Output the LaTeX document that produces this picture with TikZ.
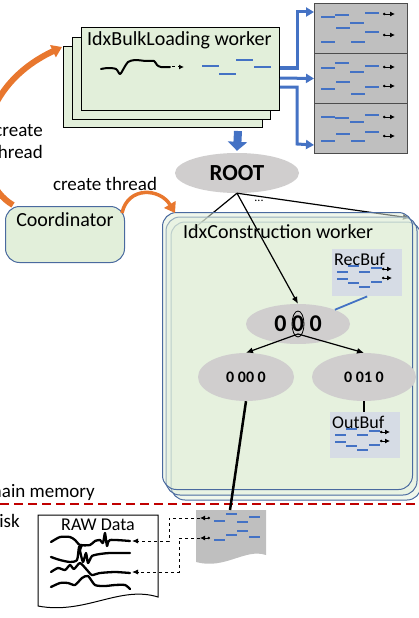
\documentclass[tikz,border=0pt]{standalone}
\usepackage{fontspec}
\setmainfont{Carlito}
\usetikzlibrary{arrows.meta,positioning,shapes.geometric,calc}

\definecolor{wgreen}{HTML}{E2EFDA}
\definecolor{ngray}{HTML}{D0CECE}
\definecolor{bgray}{HTML}{BFBFBF}
\definecolor{bufbg}{HTML}{D6DCE5}
\definecolor{dblue}{HTML}{4472C4}
\definecolor{fblue}{HTML}{4A6A9F}
\definecolor{orng}{HTML}{E8772E}
\definecolor{dred}{HTML}{C00000}

\newcommand{\fsz}[1]{\fontsize{#1}{#1}\selectfont}

\tikzset{
  wbox/.style = {draw, fill=wgreen, line width=1pt},
  cbox/.style = {draw=fblue, fill=wgreen, rounded corners=14pt, line width=1pt},
  lyr/.style = {cbox, fill opacity=0.5},
  tnode/.style = {ellipse, fill=ngray, inner sep=0pt},
  gbox/.style = {draw=black!70, fill=bgray, line width=1pt, minimum width=93, minimum height=50, anchor=north west},
  bufbox/.style = {fill=bufbg, minimum width=70, minimum height=47, anchor=north west},
  lbl/.style = {font=\fsz{20}, inner sep=0pt},
  dsh/.style = {dblue, line width=1.7pt},
  tip/.style = {line width=0.9pt, {Circle[length=2.5pt]}-{Latex[length=5pt,width=5pt]}},
  barrow/.style = {dblue, line width=3pt, -{Triangle[length=8pt,width=9pt]}},
  tarr/.style = {line width=1.2pt, -{Latex[length=7pt,width=6pt]}},
  oarrow/.style = {orng, line width=4pt, -{Triangle[length=10pt,width=13pt]}},
  squig/.style = {line width=2.3pt, line join=round, line cap=round},
  darr/.style = {dashed, line width=0.9pt, -{Latex[length=6pt,width=5pt]}}
}

\begin{document}
\begin{tikzpicture}[x=1pt,y=-1pt]
\useasboundingbox (0,0) rectangle (419,618);

% bulk loading workers
\node[wbox, minimum width=199, minimum height=81, anchor=north west] (bulk3) at (63,46) {};
\node[wbox, minimum width=198, minimum height=82, anchor=north west] (bulk2) at (72,37) {};
\node[wbox, minimum width=198, minimum height=83, anchor=north west] (bulk) at (81,27) {};
\node[lbl, anchor=base west] (bulkt) at (87,46) {IdxBulkLoading worker};
\draw[squig, line width=2pt] plot[smooth, tension=0.5] coordinates {(101,69) (108,68) (116,69) (120,74) (124,68) (128,62) (135,60) (146,61) (154,61) (157,65) (161,67) (170,67)};
\draw[dashed, line width=1pt, -{Latex[length=5pt,width=5pt]}] (172,67) -- (184,67);
\foreach \x/\y in {202/66, 219/74, 236/60, 254/67}
  \draw[dsh] (\x,\y) -- ++(17,0);

% partitions
\node[gbox] (part1) at (314,3) {};
\node[gbox] (part2) at (314,53) {};
\node[gbox] (part3) at (314,103) {};
\foreach \x/\y in {321/17, 335/15, 350/23, 365/13, 336/28, 365/32, 321/42, 351/42,
                   321/68, 335/63, 350/72, 365/66, 321/89, 336/82, 351/94, 365/87,
                   321/117, 335/118, 350/122, 365/115, 321/141, 336/134, 351/141, 365/132}
  \draw[dsh] (\x,\y) -- ++(14,0);
\foreach \y in {14,35,67,86,117,136}
  \draw[tip] (383,\y) -- (395,\y);

\draw[barrow] ($(bulk.north east)+(0,41)$) -| (297,12) -- ($(part1.north west)+(0,9)$);
\draw[barrow] ($(bulk.north east)+(0,51)$) -- (part2.west);
\draw[barrow] ($(bulk.north east)+(0,60)$) -| (297,144) -- ($(part3.south west)+(0,-9)$);

% root
\node[tnode, minimum width=124, minimum height=40, font=\bfseries\fsz{23}] (root) at (237,173) {ROOT};
\coordinate (ba) at (238,131);
\draw[dblue, line width=8pt, -{Triangle[length=9pt,width=19pt]}] (ba) -- ([yshift=2pt]root.north);
\coordinate (cl) at (192,230);
\coordinate (cr) at (410,218);
\draw[tarr] (root.south) -- (cl);
\draw[tarr] (root.south) -- (cr);
\node[font=\fsz{12}, inner sep=0pt] (dots) at (259,201) {...};

% construction workers
\draw[lyr] (171,222) rectangle (421,500);
\draw[lyr] (166,217) rectangle (417,495);
\node[lyr, minimum width=250, minimum height=277, anchor=north west] (cons) at (162,212) {};
\node[lbl, anchor=base west] (const) at (183,238) {IdxConstruction worker};

% record buffer
\node[bufbox] (recbuf) at (332,249) {};
\node[font=\fsz{18}, inner sep=0pt, anchor=base west] (recbuft) at (334,265) {RecBuf};
\begin{scope}[shift={(recbuf.north west)}]
  \foreach \x/\y in {5/23, 16/17, 27/23, 39/19, 5/30, 16/34, 27/38, 39/33}
    \draw[dsh, line width=1.5pt] (\x,\y) -- ++(11,0);
  \foreach \y in {20,29}
    \draw[tip] (50,\y) -- (60,\y);
\end{scope}

% tree nodes
\node[tnode, minimum width=104, minimum height=40, font=\bfseries\fsz{24}] (n000) at (298,324) {0 0 0};
\draw[line width=0.8pt] (n000.center) ellipse (6 and 13);
\draw[dblue, line width=1.8pt] (recbuf.south) -- (n000.north east);
\draw[tarr] (root.south) -- (n000.north);
\node[tnode, minimum width=96, minimum height=48, font=\bfseries\fsz{16}] (n0000) at (246,377) {0 00 0};
\node[tnode, minimum width=104, minimum height=48, font=\bfseries\fsz{16}] (n0010) at (364,377) {0 01 0};
\draw[tarr] ([yshift=-10pt]n000.center) -- (n0000.north);
\draw[tarr] ([yshift=-10pt]n000.center) -- (n0010.north);

% output buffer
\node[bufbox, minimum height=46] (outbuf) at (330,412) {};
\node[font=\fsz{18}, inner sep=0pt, anchor=base west] (outbuft) at (332,428) {OutBuf};
\begin{scope}[shift={(outbuf.north west)}]
  \foreach \x/\y in {5/23, 16/17, 27/23, 39/19, 5/30, 16/34, 27/38, 39/33}
    \draw[dsh, line width=1.5pt] (\x,\y) -- ++(11,0);
  \foreach \y in {20,29}
    \draw[tip] (50,\y) -- (60,\y);
\end{scope}
\draw[line width=1.5pt] (n0010.south) -- (n0010.south |- outbuf.north);

% coordinator
\node[cbox, minimum width=119, minimum height=56, anchor=north west] (coord) at (5,206) {};
\node[lbl, anchor=base] (coordt) at ($(coord.north)+(0,20)$) {Coordinator};
\node[font=\fsz{19}, inner sep=0pt, anchor=base] (ct1) at (105,190) {create thread};
\draw[oarrow, line width=3.5pt] ($(coord.north east)+(-3,7)$) .. controls (128,186) and (160,188) .. ($(cons.north west)+(13,1)$);
\node[font=\fontsize{19}{22}\selectfont, align=right, inner sep=0pt, anchor=east] (ct2) at (43,142) {create\\thread};
\draw[oarrow, line width=6pt] ($(coord.north west)+(8,-1)$) .. controls (-30,180) and (-30,90) .. ($(bulk3.north west)+(-1,1)$);

% memory / disk border
\coordinate (ml) at (0,504);
\coordinate (mr) at (419,504);
\draw[dred, line width=2.5pt, dash pattern=on 9pt off 5pt] (ml) -- (mr);
\node[font=\fsz{19}, inner sep=0pt, anchor=base east] (mm) at (95,497) {main memory};
\node[font=\fsz{19}, inner sep=0pt, anchor=base east] (dk) at (20,527) {disk};

% raw data file
\draw[line width=1pt, fill=white] (38,515) -- (158,515) -- (158,597) .. controls (120,585) and (85,615) .. (38,606) -- cycle;
\node[font=\fsz{18}, inner sep=0pt, anchor=base] (rawt) at (98,530) {RAW Data};
\draw[squig] plot[smooth, tension=0.4] coordinates {(51,542) (60,537) (70,537) (75,540) (80,545) (90,545) (95,541) (100,540) (103,543) (105,533) (107,546) (110,540) (130,541)};
\draw[squig] plot[smooth, tension=0.4] coordinates {(51,557) (60,560) (70,562) (77,560) (79,547) (82,545) (80,550) (83,562) (86,553) (88,563) (92,556) (100,554) (110,553) (130,553)};
\draw[squig] plot[smooth, tension=0.4] coordinates {(51,572) (58,568) (65,570) (70,565) (74,569) (80,563) (87,570) (92,575) (100,573) (115,572) (130,573)};
\draw[squig] plot[smooth, tension=0.4] coordinates {(51,587) (60,583) (68,583) (75,585) (82,578) (88,576) (95,585) (105,586) (115,585) (125,585) (130,589)};

% partition file on disk
\fill[bgray] (196,510) -- (266,510) -- (266,555) .. controls (245,548) and (225,570) .. (196,562) -- cycle;
\foreach \x/\y in {214/521, 226/514, 237/522, 249/517, 214/540, 226/535, 237/531, 249/537}
  \draw[dsh] (\x,\y) -- ++(11,0);
\draw[tip] (210,518) -- (200,518);
\draw[tip] (210,538) -- (200,538);
\coordinate (g1) at (200,518);
\coordinate (g2) at (200,538);
\coordinate (r1) at (132,541);
\coordinate (r2) at (132,572);
\draw[darr] (g1) -- (169,518) |- (r1);
\draw[darr] (g2) -- (179,538) |- (r2);
\coordinate (gd) at (230,510);
\draw[line width=2.5pt] (n0000.south) -- (gd);

\end{tikzpicture}
\end{document}
